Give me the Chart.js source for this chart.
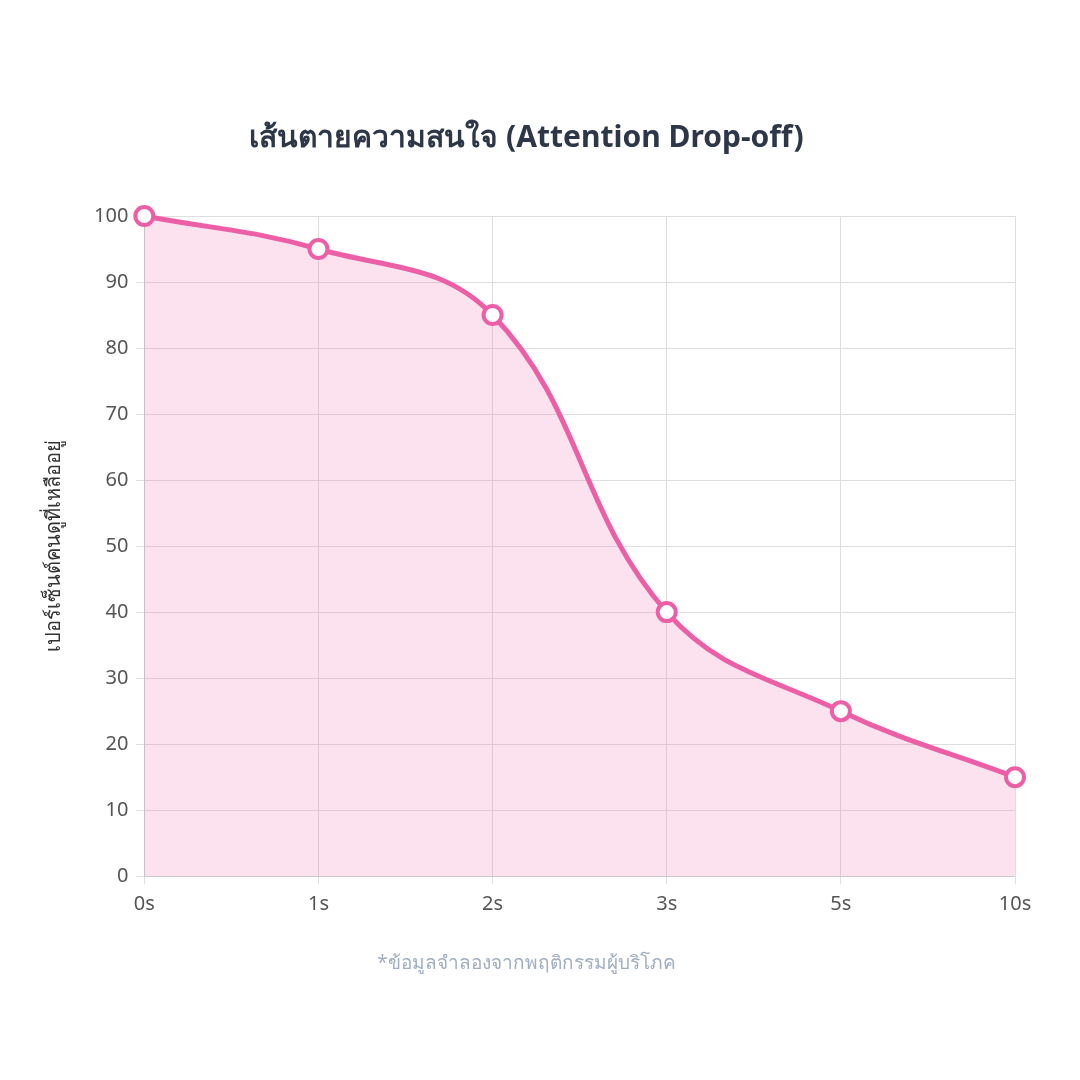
<!DOCTYPE html>
<html><head><meta charset="utf-8">
<script src="https://cdn.jsdelivr.net/npm/chart.js@4"></script>
<style>html,body{margin:0;padding:0;background:#fff;}#w{width:1080px;height:1080px;}</style>
</head><body><div id="w"><canvas id="c" width="1080" height="1080"></canvas></div>
<script>
const categories = ['0s','1s','2s','3s','5s','10s'];
const values = [100,95,85,40,25,15];
const titleText = 'เส้นตายความสนใจ (Attention Drop-off)';
const yTitle = 'เปอร์เซ็นต์คนดูที่เหลืออยู่';
const footText = '*ข้อมูลจำลองจากพฤติกรรมผู้บริโภค';
const F = "'Noto Sans','DejaVu Sans',sans-serif";
new Chart(document.getElementById('c'), {
  type:'line',
  data:{labels:categories,datasets:[{data:values,borderColor:'#ec5fa6',backgroundColor:'rgba(236,95,166,0.18)',fill:true,borderWidth:5,tension:0.4,clip:false,
    pointRadius:9,pointBackgroundColor:'#fff',pointBorderColor:'#ec5fa6',pointBorderWidth:4}]},
  options:{responsive:false,animation:false,
    layout:{padding:{left:38,right:65,top:120,bottom:105}},
    plugins:{legend:{display:false},
      title:{display:true,text:titleText,color:'#2d3748',font:{family:F,size:30,weight:'bold'},padding:{bottom:60}},
      subtitle:{display:true,position:'bottom',text:footText,color:'#a0aec0',font:{family:F,size:19},padding:{top:28}}},
    scales:{
      x:{ticks:{color:'#555',font:{family:F,size:20},padding:8},grid:{color:'#dedede'}},
      y:{min:0,max:100,ticks:{stepSize:10,color:'#555',font:{family:F,size:20},padding:8},grid:{color:'#dedede'},
        title:{display:true,text:yTitle,color:'#333',font:{family:F,size:20},padding:{bottom:20}}}
    }}
});
</script></body></html>
